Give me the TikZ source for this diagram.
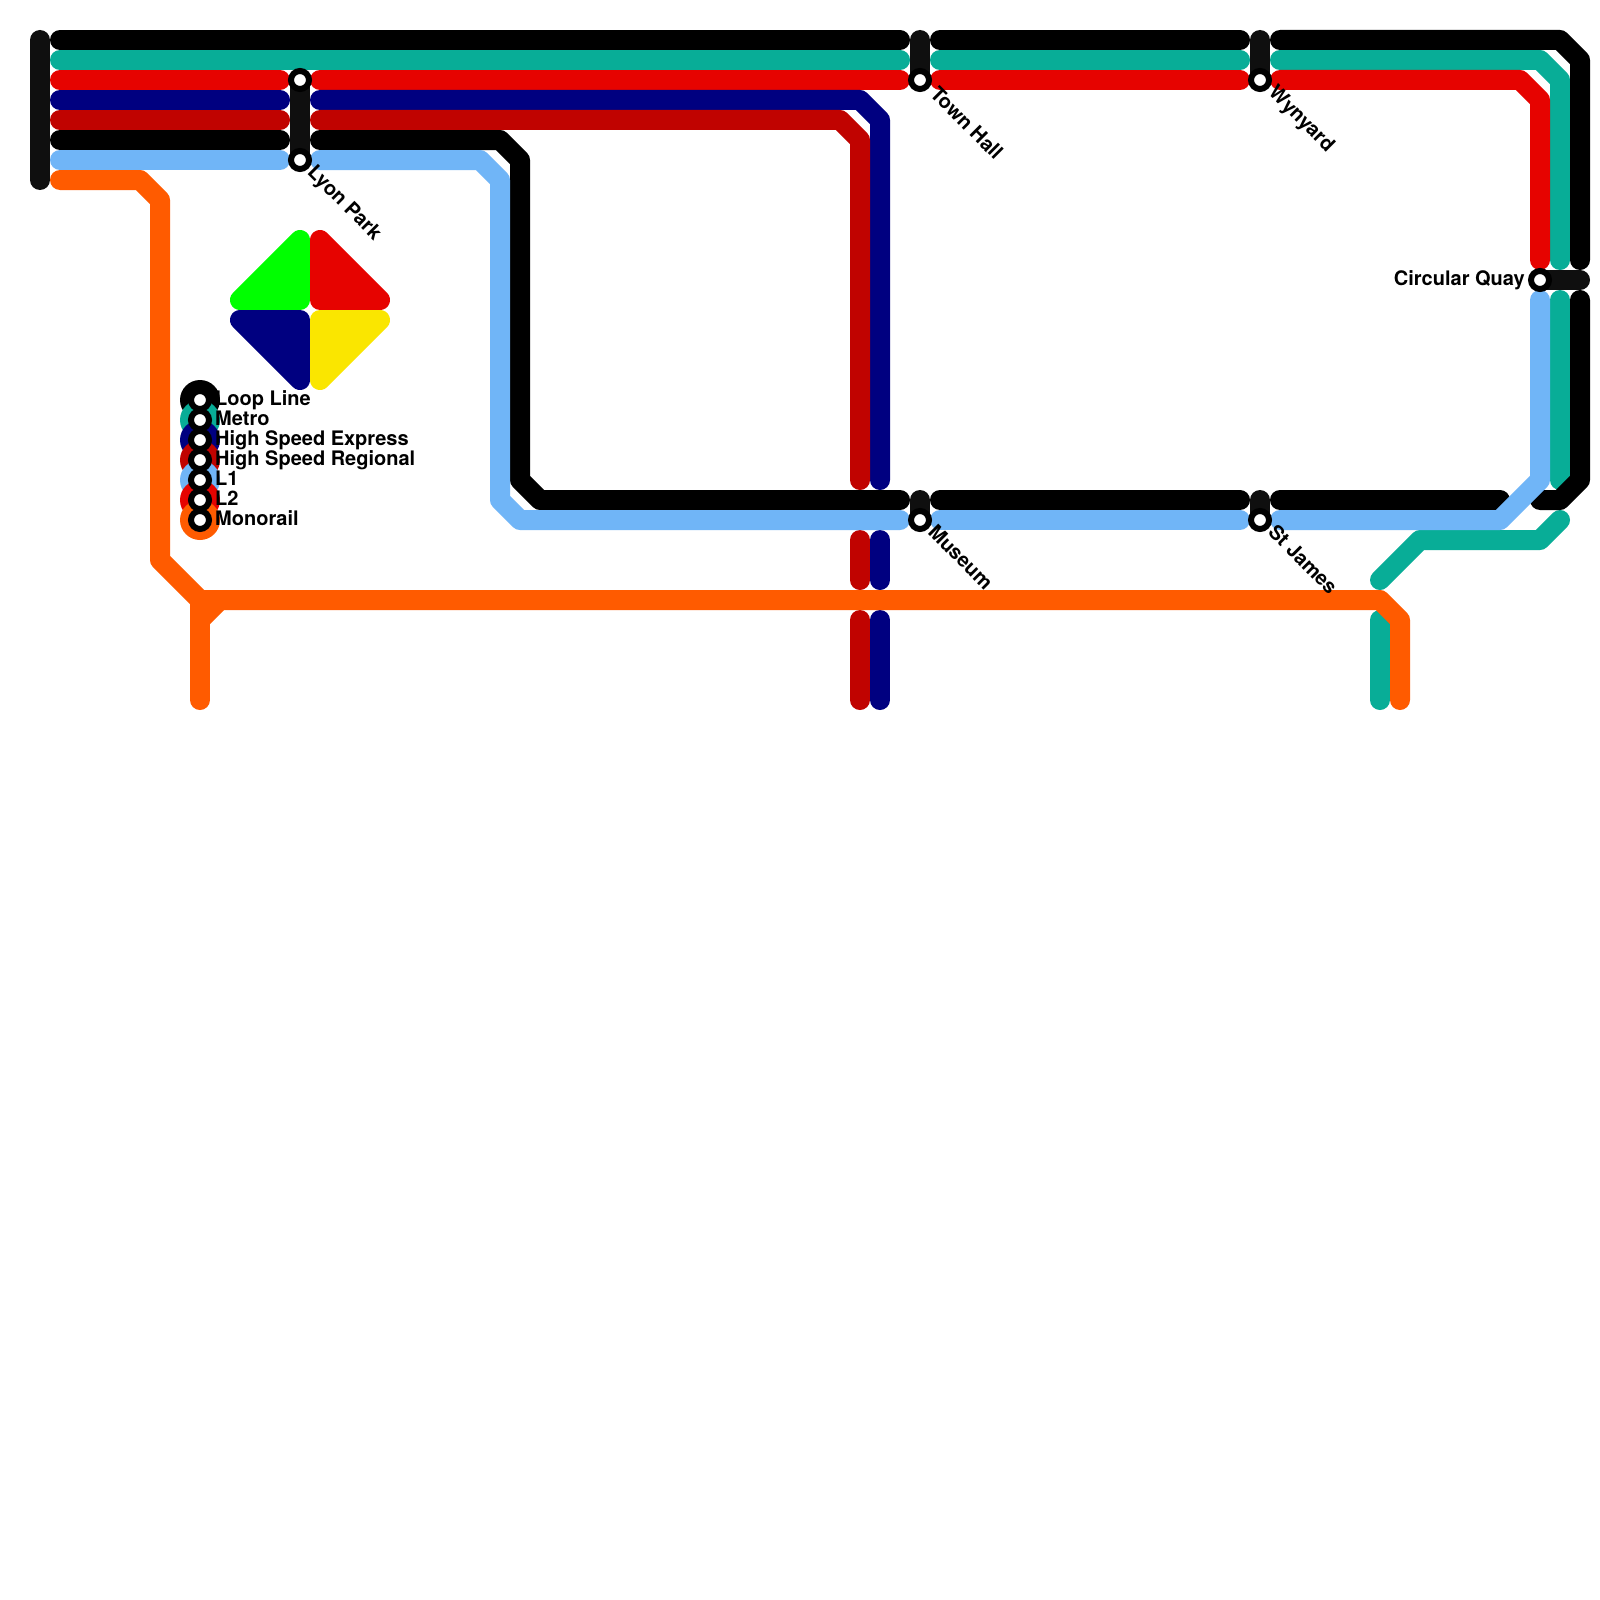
\documentclass[tikz,border=0pt]{standalone}
\usepackage{fontspec}
\setmainfont{TeX Gyre Heros}
\definecolor{cblack}{HTML}{000000}
\definecolor{cconn}{HTML}{0F0F0F}
\definecolor{cteal}{HTML}{08AD97}
\definecolor{cred}{HTML}{E60300}
\definecolor{cnavy}{HTML}{000080}
\definecolor{cdred}{HTML}{C00300}
\definecolor{cblue}{HTML}{70B5F7}
\definecolor{corange}{HTML}{FF5B00}
\definecolor{cgreen}{HTML}{00FF00}
\definecolor{cyellow}{HTML}{FAE600}
\tikzset{
  ln/.style={line width=20pt,line cap=round,line join=round},
  conn/.style={ln,draw=cconn},
  tri/.style={line width=20pt,line join=round},
  stn/.style={circle,draw=black,fill=white,line width=6pt,minimum size=18pt,inner sep=0pt},
  swatch/.style={circle,minimum size=40pt,inner sep=0pt},
  lbl/.style={font=\fontsize{20}{20}\selectfont\bfseries,inner sep=0pt,text=black},
  slbl/.style={lbl,rotate=-45,anchor=west},
}
\begin{document}
\begin{tikzpicture}[x=1pt,y=-1pt]
\useasboundingbox (0,0) rectangle (1600,1600);
\fill[white] (0,0) rectangle (1600,1600);
% stations as coordinates
\coordinate (tl1) at (40,40); \coordinate (tl2) at (40,180);
\coordinate (lpT) at (300,80); \coordinate (lpB) at (300,160);
\coordinate (thT) at (920,40); \coordinate (thB) at (920,80);
\coordinate (wyT) at (1260,40); \coordinate (wyB) at (1260,80);
\coordinate (cqL) at (1540,280); \coordinate (cqR) at (1580,280);
\coordinate (muT) at (920,500); \coordinate (muB) at (920,520);
\coordinate (sjT) at (1260,500); \coordinate (sjB) at (1260,520);
% connectors
\draw[conn] (tl1) -- (tl2);
\draw[conn] (lpT) -- (lpB);
\draw[conn] (thT) -- (thB);
\draw[conn] (wyT) -- (wyB);
\draw[conn] (cqL) -- (cqR);
\draw[conn] (muT) -- (muB);
\draw[conn] (sjT) -- (sjB);
% teal
\draw[ln,cteal] (60,60) -- (900,60);
\draw[ln,cteal] (940,60) -- (1240,60);
\draw[ln,cteal] (1280,60) -- (1540,60) -- (1560,80) -- (1560,260);
\draw[ln,cteal] (1560,300) -- (1560,480);
\draw[ln,cteal] (1560,520) -- (1540,540) -- (1420,540) -- (1380,580);
\draw[ln,cteal] (1380,620) -- (1380,700);
% black
\draw[ln,cblack] (60,40) -- (900,40);
\draw[ln,cblack] (940,40) -- (1240,40);
\draw[ln,cblack] (1280,40) -- (1560,40) -- (1580,60) -- (1580,260);
\draw[ln,cblack] (1580,300) -- (1580,480) -- (1560,500) -- (1540,500);
\draw[ln,cblack] (60,140) -- (280,140);
\draw[ln,cblack] (320,140) -- (500,140) -- (520,160) -- (520,480) -- (540,500) -- (900,500);
\draw[ln,cblack] (940,500) -- (1240,500);
\draw[ln,cblack] (1280,500) -- (1500,500);
% red
\draw[ln,cred] (60,80) -- (280,80);
\draw[ln,cred] (320,80) -- (900,80);
\draw[ln,cred] (940,80) -- (1240,80);
\draw[ln,cred] (1280,80) -- (1520,80) -- (1540,100) -- (1540,260);
% navy
\draw[ln,cnavy] (60,100) -- (280,100);
\draw[ln,cnavy] (320,100) -- (860,100) -- (880,120) -- (880,480);
\draw[ln,cnavy] (880,540) -- (880,580);
\draw[ln,cnavy] (880,620) -- (880,700);
% dark red
\draw[ln,cdred] (60,120) -- (280,120);
\draw[ln,cdred] (320,120) -- (840,120) -- (860,140) -- (860,480);
\draw[ln,cdred] (860,540) -- (860,580);
\draw[ln,cdred] (860,620) -- (860,700);
% light blue
\draw[ln,cblue] (60,160) -- (280,160);
\draw[ln,cblue] (320,160) -- (480,160) -- (500,180) -- (500,500) -- (520,520) -- (900,520);
\draw[ln,cblue] (940,520) -- (1240,520);
\draw[ln,cblue] (1280,520) -- (1500,520) -- (1540,480) -- (1540,300);
% orange
\draw[ln,corange] (60,180) -- (140,180) -- (160,200) -- (160,560) -- (200,600) -- (1380,600) -- (1400,620) -- (1400,700);
\draw[ln,corange] (200,600) -- (200,700);
\draw[ln,corange] (200,620) -- (220,600);
% logo
\filldraw[tri,cgreen] (240,300) -- (300,240) -- (300,300) -- cycle;
\filldraw[tri,cred] (320,240) -- (380,300) -- (320,300) -- cycle;
\filldraw[tri,cnavy] (240,320) -- (300,320) -- (300,380) -- cycle;
\filldraw[tri,cyellow] (320,320) -- (380,320) -- (320,380) -- cycle;
% legend
\node[swatch,fill=cblack] (sw1) at (200,400) {};
\node[swatch,fill=cteal] (sw2) at (200,420) {};
\node[swatch,fill=cnavy] (sw3) at (200,440) {};
\node[swatch,fill=cdred] (sw4) at (200,460) {};
\node[swatch,fill=cblue] (sw5) at (200,480) {};
\node[swatch,fill=cred] (sw6) at (200,500) {};
\node[swatch,fill=corange] (sw7) at (200,520) {};
\node[stn] (k1) at (200,400) {};
\node[stn] (k2) at (200,420) {};
\node[stn] (k3) at (200,440) {};
\node[stn] (k4) at (200,460) {};
\node[stn] (k5) at (200,480) {};
\node[stn] (k6) at (200,500) {};
\node[stn] (k7) at (200,520) {};
\node[lbl,anchor=base west] (t1) at (215,405) {Loop Line};
\node[lbl,anchor=base west] (t2) at (215,425) {Metro};
\node[lbl,anchor=base west] (t3) at (215,445) {High Speed Express};
\node[lbl,anchor=base west] (t4) at (215,465) {High Speed Regional};
\node[lbl,anchor=base west] (t5) at (215,485) {L1};
\node[lbl,anchor=base west] (t6) at (215,505) {L2};
\node[lbl,anchor=base west] (t7) at (215,525) {Monorail};
% stations
\node[stn] (s1) at (lpT) {};
\node[stn] (s2) at (lpB) {};
\node[stn] (s3) at (thB) {};
\node[stn] (s4) at (wyB) {};
\node[stn] (s5) at (cqL) {};
\node[stn] (s6) at (muB) {};
\node[stn] (s7) at (sjB) {};
\node[slbl] (l1) at (310,170) {Lyon Park};
\node[slbl] (l2) at (934,90) {Town Hall};
\node[slbl] (l3) at (1271,90) {Wynyard};
\node[slbl] (l4) at (932,528) {Museum};
\node[slbl] (l5) at (1272,528) {St James};
\node[lbl,anchor=base east] (l6) at (1525,285) {Circular Quay};
\end{tikzpicture}
\end{document}
